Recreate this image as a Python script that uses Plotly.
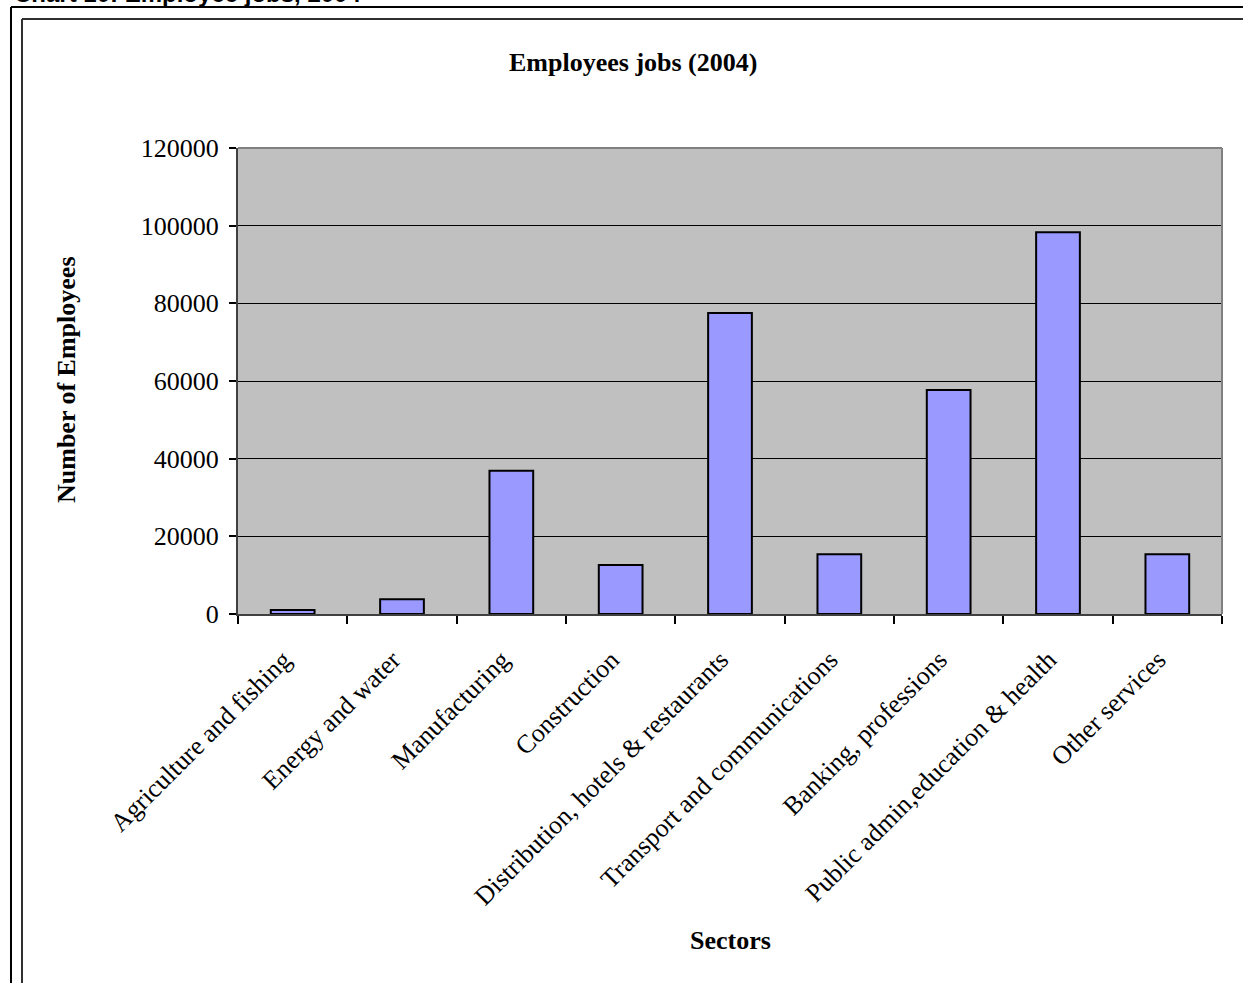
import plotly.graph_objects as go

# Employee jobs by sector, 2004
sectors = [
    "Agriculture and fishing",
    "Energy and water",
    "Manufacturing",
    "Construction",
    "Distribution, hotels & restaurants",
    "Transport and communications",
    "Banking, professions",
    "Public admin,education & health",
    "Other services",
]
employees = [1000, 3800, 36900, 12600, 77500, 15400, 57700, 98300, 15400]
y_ticks = [0, 20000, 40000, 60000, 80000, 100000, 120000]

W, H = 1243, 983
L, R, T, B = 238, 21, 148, 369
PW, PH = W - L - R, H - T - B


def px_x(px):
    return (px - L) / PW


def px_y(py):
    return (H - B - py) / PH


serif = "Liberation Serif, Times New Roman, serif"

fig = go.Figure(
    go.Bar(
        x=sectors,
        y=employees,
        width=0.4,
        marker=dict(color="#9999FF", line=dict(color="black", width=2)),
    )
)

fig.update_layout(
    width=W,
    height=H,
    margin=dict(l=L, r=R, t=T, b=B),
    paper_bgcolor="white",
    plot_bgcolor="#C0C0C0",
    showlegend=False,
    font=dict(family=serif, size=26, color="black"),
)

# trailing no-break spaces pull the slanted labels a little away from the ticks
fig.update_xaxes(
    showgrid=False,
    tickson="boundaries",
    ticks="outside",
    ticklen=8,
    tickwidth=1.5,
    tickcolor="black",
    tickangle=-45,
    tickmode="array",
    tickvals=sectors,
    ticktext=[s + "\u00a0\u00a0" for s in sectors],
    tickfont=dict(family=serif, size=26, color="black"),
    showline=True,
    linecolor="#404040",
    linewidth=2,
    ticklabelstandoff=9,
)

fig.update_yaxes(
    range=[0, 120000],
    tickvals=y_ticks,
    ticktext=[str(v) for v in y_ticks],
    ticks="outside",
    ticklen=7,
    tickwidth=1.5,
    tickcolor="black",
    tickfont=dict(family=serif, size=26, color="black"),
    showgrid=True,
    gridcolor="black",
    gridwidth=1,
    zeroline=False,
    showline=True,
    linecolor="#404040",
    linewidth=2,
    ticklabelstandoff=5,
)

# plot-area border on the top and right
fig.add_shape(type="line", xref="paper", yref="paper", x0=0, x1=1, y0=1, y1=1,
              line=dict(color="#808080", width=2))
fig.add_shape(type="line", xref="paper", yref="paper", x0=1, x1=1, y0=0, y1=1,
              line=dict(color="#808080", width=2))

# outer page frame (black) and inner chart frame (dark grey)
fig.add_shape(type="line", xref="paper", yref="paper",
              x0=px_x(11), x1=px_x(1260), y0=px_y(7), y1=px_y(7),
              line=dict(color="black", width=2))
fig.add_shape(type="line", xref="paper", yref="paper",
              x0=px_x(11), x1=px_x(11), y0=px_y(7), y1=px_y(1000),
              line=dict(color="black", width=2))
fig.add_shape(type="line", xref="paper", yref="paper",
              x0=px_x(22), x1=px_x(1260), y0=px_y(19), y1=px_y(19),
              line=dict(color="#303030", width=2))
fig.add_shape(type="line", xref="paper", yref="paper",
              x0=px_x(22), x1=px_x(22), y0=px_y(19), y1=px_y(1000),
              line=dict(color="#303030", width=2))

# page caption above the frame
fig.add_annotation(
    text="<b>Chart 10: Employee jobs, 2004</b>",
    xref="paper", yref="paper", x=px_x(12), y=px_y(9),
    xanchor="left", yanchor="bottom", showarrow=False,
    font=dict(family="Liberation Sans, Arial, sans-serif", size=24, color="black"),
)

# chart title
fig.add_annotation(
    text="<b>Employees jobs (2004)</b>",
    xref="paper", yref="paper", x=px_x(633), y=px_y(62),
    xanchor="center", yanchor="middle", showarrow=False,
    font=dict(family=serif, size=26, color="black"),
)

# axis titles
fig.add_annotation(
    text="<b>Sectors</b>",
    xref="paper", yref="paper", x=px_x(730), y=px_y(940),
    xanchor="center", yanchor="middle", showarrow=False,
    font=dict(family=serif, size=26, color="black"),
)
fig.add_annotation(
    text="<b>Number of Employees</b>",
    xref="paper", yref="paper", x=px_x(66), y=px_y(380),
    xanchor="center", yanchor="middle", showarrow=False, textangle=-90,
    font=dict(family=serif, size=26, color="black"),
)

fig.write_html("out.html")
